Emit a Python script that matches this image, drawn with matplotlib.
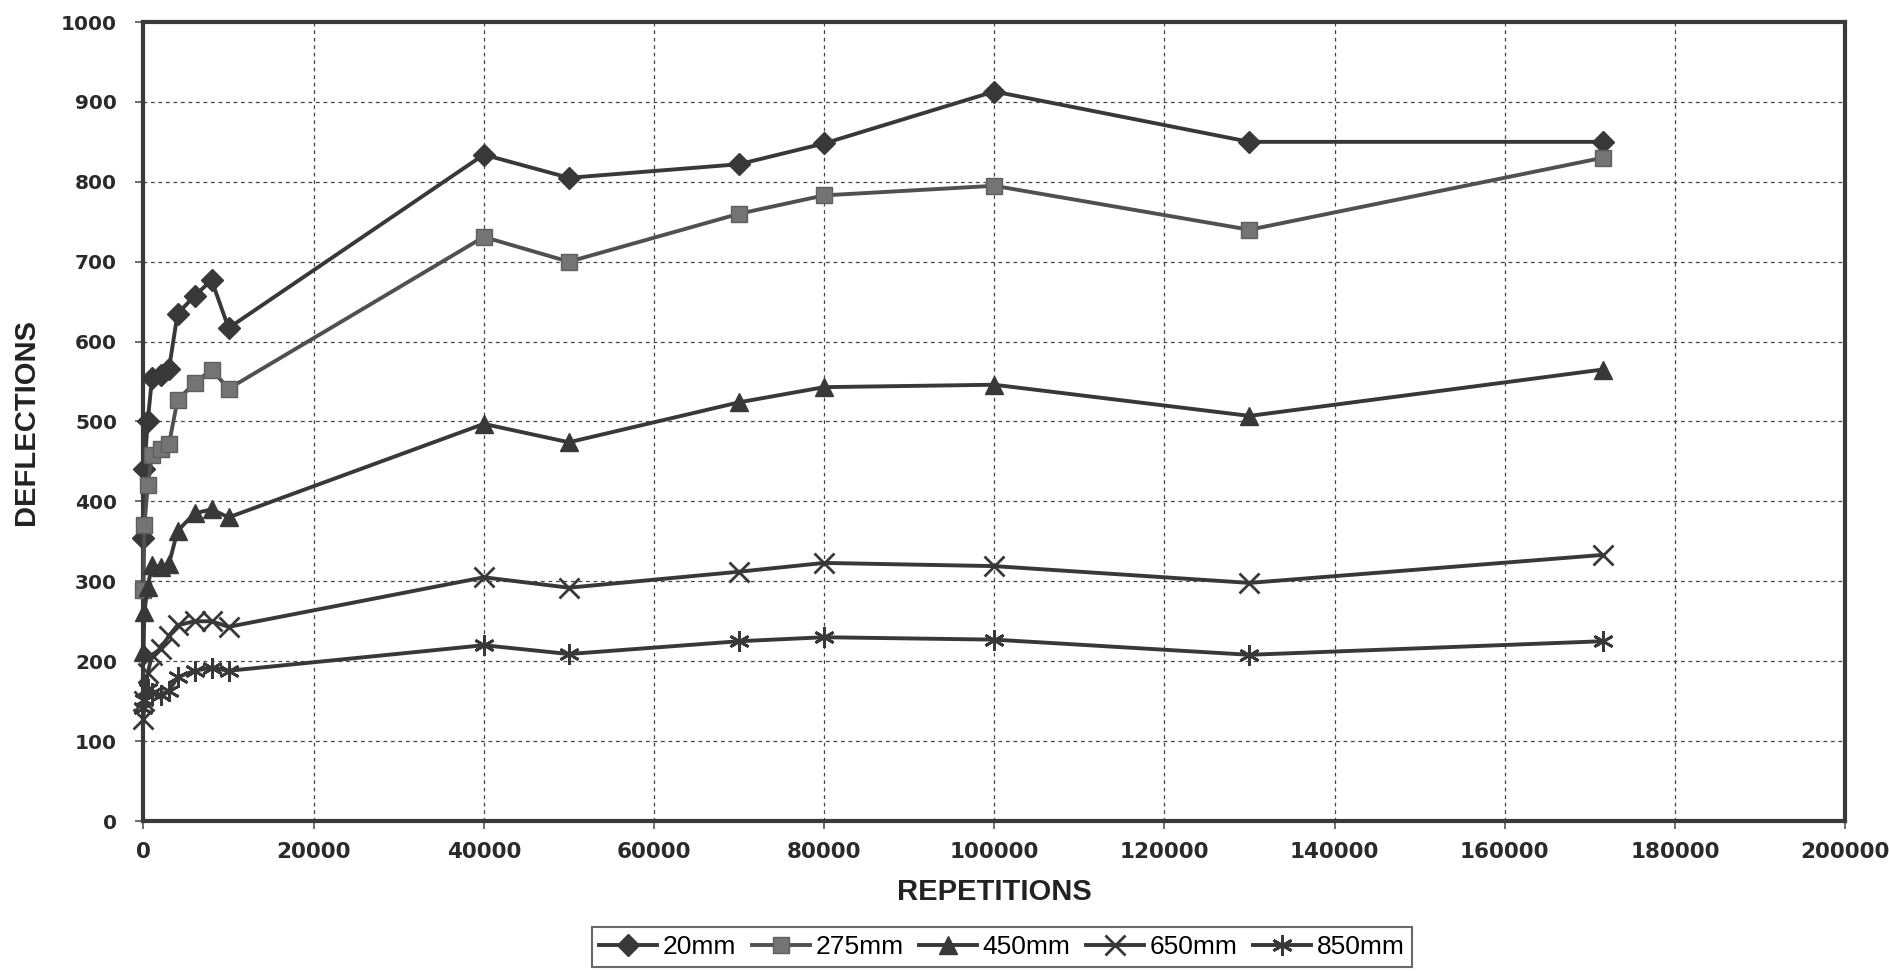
import matplotlib
matplotlib.use("Agg")
import matplotlib.pyplot as plt

# ---- data ----
repetitions = [0, 100, 500, 1000, 2000, 3000, 4000, 6000, 8000, 10000,
               40000, 50000, 70000, 80000, 100000, 130000, 171500]
d20 = [354, 440, 501, 554, 558, 566, 635, 657, 677, 617,
       834, 805, 822, 848, 913, 850, 850]
d275 = [289, 370, 420, 458, 465, 472, 527, 548, 565, 541,
        731, 700, 760, 783, 795, 740, 830]
d450 = [212, 262, 293, 320, 318, 322, 363, 385, 390, 380,
        497, 474, 524, 543, 546, 507, 565]
d650 = [128, 150, 185, 208, 215, 232, 245, 250, 250, 243,
        305, 292, 312, 323, 319, 298, 333]
d850 = [142, 152, 165, 160, 158, 163, 180, 188, 192, 188,
        220, 209, 225, 230, 227, 208, 225]
labels = ["20mm", "275mm", "450mm", "650mm", "850mm"]
xticks = list(range(0, 200001, 20000))
yticks = list(range(0, 1001, 100))

fig = plt.figure(figsize=(18.9, 9.71), dpi=100)
ax = fig.add_axes([143.5 / 1890, 1 - 821 / 971, (1845 - 143.5) / 1890, (821 - 22) / 971])

dark = "#383838"
series = [
    (d20, dict(marker="D", ms=11, color=dark, mfc=dark, mec=dark)),
    (d275, dict(marker="s", ms=12, color="#505050", mfc="#747474", mec="#5e5e5e")),
    (d450, dict(marker="^", ms=13, color=dark, mfc=dark, mec=dark)),
    (d650, dict(marker="x", ms=14, mew=2, color=dark, mfc=dark, mec=dark)),
    (d850, dict(marker=(6, 2, 0), ms=15, mew=2, color=dark, mfc=dark, mec=dark)),
]
handles = []
for (vals, kw), lab in zip(series, labels):
    h, = ax.plot(repetitions, vals, lw=2.8, label=lab, clip_on=False, zorder=3, **kw)
    handles.append(h)

ax.set_xlim(0, 200000)
ax.set_ylim(0, 1000)
ax.set_xticks(xticks)
ax.set_yticks(yticks)
ax.grid(True, color="#444444", linestyle=(0, (3, 3)), linewidth=0.9)
ax.set_axisbelow(True)
for s in ax.spines.values():
    s.set_linewidth(3)
    s.set_color("#3a3a3a")

ax.set_xticklabels([str(v) for v in xticks], family="DejaVu Sans", weight="bold", size=15.5)
ax.set_yticklabels([str(v) for v in yticks], family="DejaVu Sans", weight="bold", size=14.5)
ax.tick_params(axis="both", length=6, width=1.2, color="#555555", direction="out",
               labelcolor="#2a2a2a")
ax.tick_params(axis="x", pad=9)
ax.tick_params(axis="y", pad=13)

fam = ["Liberation Sans", "DejaVu Sans"]
labfont = dict(family=fam, weight="bold", size=21, color="#222222")
ax.set_xlabel("REPETITIONS", **labfont)
ax.set_ylabel("DEFLECTIONS", **labfont)
ax.xaxis.set_label_coords(0.5, -(892 - 821) / (821 - 22), transform=ax.transAxes)
ax.yaxis.set_label_coords(-(143.5 - 26) / (1845 - 143.5), 0.5, transform=ax.transAxes)
ax.xaxis.label.set_va("center")
ax.yaxis.label.set_va("center")

leg = fig.legend(handles=handles, labels=labels, loc="center",
                 bbox_to_anchor=(1002 / 1890, 1 - 947 / 971), ncol=5,
                 frameon=True, fancybox=False, handlelength=2.2, handletextpad=0.2,
                 columnspacing=0.6, borderpad=0.3,
                 prop=dict(family=fam, size=19))
leg.get_frame().set_edgecolor("#444444")
leg.get_frame().set_linewidth(1.5)

fig.savefig("out.png", dpi=100, facecolor="white")
